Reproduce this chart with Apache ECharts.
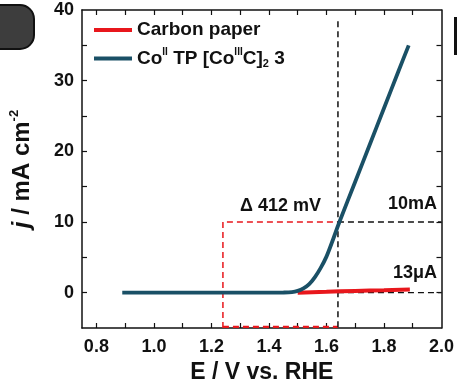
<!DOCTYPE html>
<html>
<head>
<meta charset="utf-8">
<script src="https://cdn.jsdelivr.net/npm/echarts@6/dist/echarts.min.js"></script>
<style>
html,body{margin:0;padding:0;background:#fff;}
#chart{width:457px;height:389px;}
</style>
</head>
<body>
<div id="chart"></div>
<script>
// ---- data ----
const seriesNames = ['Carbon paper', 'CoTP'];
const coE = [0.89, 1.00, 1.20, 1.40, 1.45, 1.48, 1.50, 1.52, 1.54, 1.56, 1.58, 1.60, 1.62, 1.645, 1.70, 1.75, 1.80, 1.85, 1.886];
const coJ = [0, 0, 0, 0, 0.02, 0.08, 0.25, 0.6, 1.2, 2.2, 3.5, 5.1, 7.2, 10.0, 15.7, 20.9, 26.1, 31.3, 35.0];
const cpE = [1.50, 1.60, 1.70, 1.80, 1.89];
const cpJ = [0.0, 0.12, 0.25, 0.35, 0.45];
const xTickLabels = [0.8, 1.0, 1.2, 1.4, 1.6, 1.8, 2.0];
const xTicks = [0.8, 0.9, 1.0, 1.1, 1.2, 1.3, 1.4, 1.5, 1.6, 1.7, 1.8, 1.9];
const yTickLabels = [0, 10, 20, 30, 40];
const yTicks = [0, 5, 10, 15, 20, 25, 30, 35];
const xRange = [0.75, 2.0];
const yRange = [-5, 40];
// guide lines (E in V, j in mA cm-2)
const eAt10 = 1.64;
const eBase = 1.24;
const guideTop = 38.4;
const jTarget = 10;
const annotations = ['\u0394 412 mV', '10mA', '13\u03bcA'];

const pair = (xs, ys) => xs.map((x, i) => [x, ys[i]]);
const blue = '#1a5066';
const red = '#e8171c';
const bold = 'bold';
const ff = 'Arial, "Liberation Sans", Helvetica, sans-serif';

const chart = echarts.init(document.getElementById('chart'));

function dashed(data, color, w) {
  return {
    type: 'line', data: data, symbol: 'none', silent: true, clip: false,
    lineStyle: {color: color, width: w || 1.5, type: [6, 4]}, z: 1, animation: false
  };
}

const option = {
  animation: false,
  backgroundColor: '#fff',
  grid: {left: 80, right: 14, top: 10, bottom: 61},
  textStyle: {fontFamily: ff},
  legend: {
    orient: 'vertical', left: 89, top: 14, itemGap: 6.4,
    itemWidth: 38, itemHeight: 4, icon: 'rect',
    data: seriesNames,
    textStyle: {
      fontFamily: ff, fontSize: 19, fontWeight: bold, color: '#111', lineHeight: 22,
      rich: {
        n: {fontFamily: ff, fontSize: 19, fontWeight: bold, color: '#111', lineHeight: 22},
        sup: {fontFamily: ff, fontSize: 10, fontWeight: bold, color: '#111', verticalAlign: 'top', lineHeight: 20},
        sub: {fontFamily: ff, fontSize: 11, fontWeight: bold, color: '#111', verticalAlign: 'bottom', lineHeight: 14}
      }
    },
    formatter: function (name) {
      if (name === 'CoTP') return '{n|Co}{sup|II}{n| TP [Co}{sup|III}{n|C]}{sub|2}{n| 3}';
      return '{n|' + name + '}';
    }
  },
  xAxis: [{
    type: 'value', min: xRange[0], max: xRange[1], position: 'bottom',
    name: 'E / V vs. RHE', nameLocation: 'middle', nameGap: 33,
    nameTextStyle: {fontFamily: ff, fontSize: 23, fontWeight: bold, color: '#111'},
    axisLine: {show: true, onZero: false, lineStyle: {color: '#111', width: 1.5}},
    axisTick: {show: true, inside: true, length: 5, customValues: xTicks, lineStyle: {color: '#111', width: 1.2}},
    axisLabel: {customValues: xTickLabels, fontFamily: ff, fontSize: 18, fontWeight: bold, color: '#111', margin: 10,
      formatter: v => v.toFixed(1)},
    splitLine: {show: false}
  }, {
    type: 'value', min: xRange[0], max: xRange[1], position: 'top',
    axisLine: {show: true, onZero: false, lineStyle: {color: '#111', width: 1.5}},
    axisTick: {show: true, inside: true, length: 5, customValues: xTicks, lineStyle: {color: '#111', width: 1.2}},
    axisLabel: {show: false}, splitLine: {show: false}
  }],
  yAxis: [{
    type: 'value', min: yRange[0], max: yRange[1], position: 'left',
    name: '{i|j}{n| / mA cm}{sup|-2}', nameLocation: 'middle', nameGap: 46, nameRotate: 90,
    nameTextStyle: {
      fontFamily: ff, fontSize: 24, fontWeight: bold, color: '#111',
      rich: {
        i: {fontFamily: ff, fontSize: 24, fontWeight: bold, fontStyle: 'italic', color: '#111', lineHeight: 28},
        n: {fontFamily: ff, fontSize: 24, fontWeight: bold, color: '#111', lineHeight: 28},
        sup: {fontFamily: ff, fontSize: 13, fontWeight: bold, color: '#111', verticalAlign: 'top', lineHeight: 28}
      }
    },
    axisLine: {show: true, onZero: false, lineStyle: {color: '#111', width: 1.5}},
    axisTick: {show: true, inside: true, length: 5, customValues: yTicks, lineStyle: {color: '#111', width: 1.2}},
    axisLabel: {customValues: yTickLabels, fontFamily: ff, fontSize: 18, fontWeight: bold, color: '#111', margin: 8},
    splitLine: {show: false}
  }, {
    type: 'value', min: yRange[0], max: yRange[1], position: 'right',
    axisLine: {show: true, onZero: false, lineStyle: {color: '#111', width: 1.5}},
    axisTick: {show: true, inside: true, length: 5, customValues: yTicks, lineStyle: {color: '#111', width: 1.2}},
    axisLabel: {show: false}, splitLine: {show: false}
  }],
  series: [
    dashed([[eBase, yRange[0]], [eBase, jTarget], [eAt10, jTarget]], red, 1.5),
    dashed([[eBase, yRange[0] + 0.15], [eAt10, yRange[0] + 0.15]], red, 2.2),
    dashed([[eAt10, guideTop], [eAt10, yRange[0]]], '#111', 1.5),
    dashed([[eAt10, jTarget], [xRange[1], jTarget]], '#111', 1.3),
    dashed([[eAt10, 0], [xRange[1], 0]], '#111', 1.3),
    {
      name: seriesNames[0], type: 'line', data: pair(cpE, cpJ), symbol: 'none', smooth: true,
      lineStyle: {color: red, width: 4}, itemStyle: {color: red}, z: 3
    },
    {
      name: seriesNames[1], type: 'line', data: pair(coE, coJ), symbol: 'none', smooth: 0.3,
      lineStyle: {color: blue, width: 3.8}, itemStyle: {color: blue}, z: 4
    }
  ],
  graphic: [
    {type: 'rect', left: -12, top: 4, shape: {width: 45, height: 44, r: [0, 14, 14, 0]},
      style: {fill: '#3d3d3d', stroke: '#111', lineWidth: 2}, silent: true},
    {type: 'rect', left: 454, top: 17, shape: {width: 4, height: 38}, style: {fill: '#111'}, silent: true},
    {type: 'text', left: 240, top: 197, style: {text: annotations[0], font: 'bold 18px ' + ff, fill: '#111'}},
    {type: 'text', right: 20, top: 195, style: {text: annotations[1], font: 'bold 18px ' + ff, fill: '#111'}},
    {type: 'text', right: 20, top: 264, style: {text: annotations[2], font: 'bold 18px ' + ff, fill: '#111'}}
  ]
};
chart.setOption(option);
</script>
</body>
</html>
